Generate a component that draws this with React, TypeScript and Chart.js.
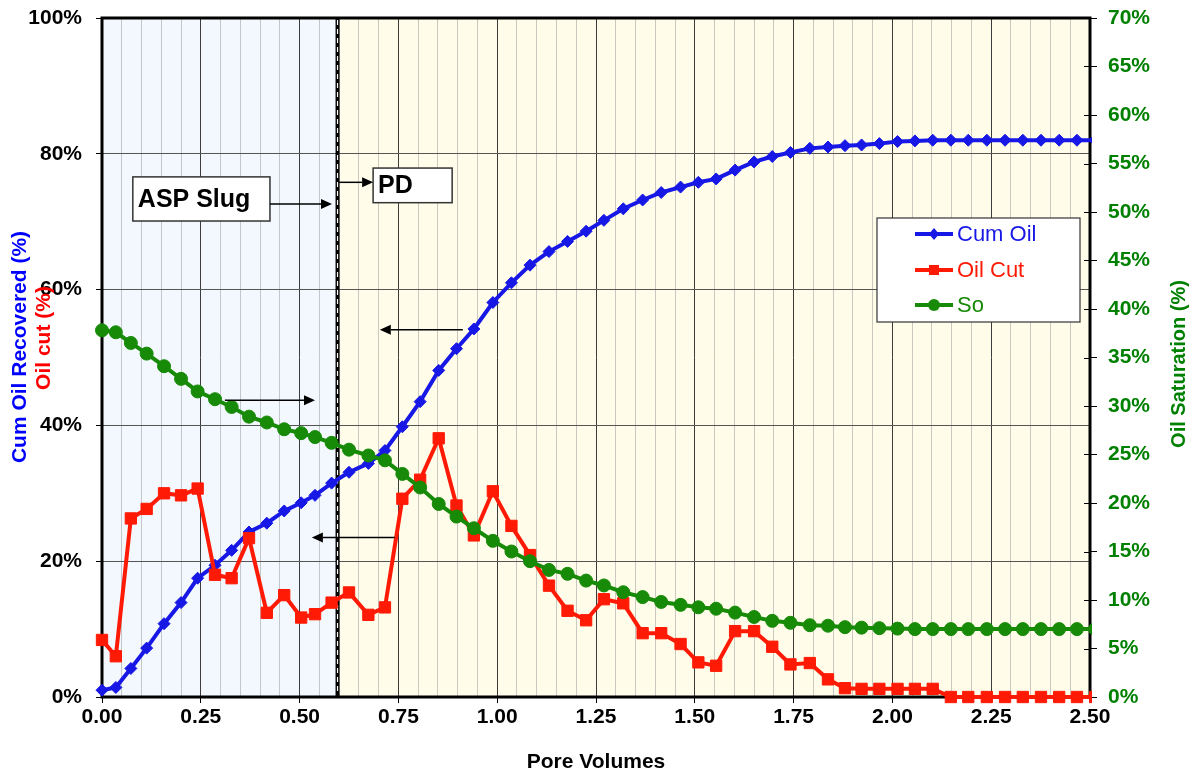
import React, { useEffect, useRef } from 'react';
import { Chart, registerables } from 'chart.js';

Chart.register(...registerables);

// Injected pore volumes at each sample point
const poreVolumes = [
  0.000, 0.035, 0.073, 0.113, 0.157, 0.200, 0.242, 0.286, 0.328, 0.372,
  0.417, 0.461, 0.504, 0.539, 0.581, 0.625, 0.674, 0.716, 0.760, 0.805,
  0.852, 0.897, 0.941, 0.989, 1.036, 1.083, 1.131, 1.178, 1.225, 1.270,
  1.319, 1.368, 1.415, 1.464, 1.509, 1.554, 1.602, 1.650, 1.696, 1.742,
  1.791, 1.837, 1.880, 1.922, 1.967, 2.013, 2.057, 2.102, 2.148, 2.192,
  2.239, 2.285, 2.330, 2.376, 2.422, 2.467, 2.513,
];

// Cumulative oil recovered, % OOIP (left axis)
const cumOil = [
  1.0, 1.4, 4.2, 7.2, 10.8, 13.9, 17.5, 19.4, 21.6, 24.3,
  25.6, 27.4, 28.6, 29.7, 31.5, 33.1, 34.4, 36.3, 39.8, 43.5,
  48.1, 51.3, 54.2, 58.1, 61.0, 63.6, 65.6, 67.1, 68.6, 70.2,
  71.9, 73.2, 74.3, 75.1, 75.8, 76.3, 77.6, 78.8, 79.6, 80.2,
  80.8, 81.0, 81.2, 81.3, 81.5, 81.8, 81.9, 82.0, 82.0, 82.0,
  82.0, 82.0, 82.0, 82.0, 82.0, 82.0, 82.0,
];

// Oil cut of the effluent, % (left axis)
const oilCut = [
  8.4, 6.0, 26.3, 27.7, 30.0, 29.7, 30.7, 18.0, 17.5, 23.4,
  12.4, 15.0, 11.7, 12.2, 13.9, 15.4, 12.1, 13.2, 29.2, 32.0,
  38.1, 28.2, 23.8, 30.3, 25.2, 20.9, 16.4, 12.7, 11.3, 14.4,
  13.8, 9.4, 9.4, 7.8, 5.1, 4.6, 9.7, 9.7, 7.4, 4.8,
  5.0, 2.6, 1.3, 1.2, 1.2, 1.2, 1.2, 1.2, 0, 0,
  0, 0, 0, 0, 0, 0, 0,
];

// Remaining oil saturation, % (right axis)
const oilSaturation = [
  37.8, 37.6, 36.5, 35.4, 34.1, 32.8, 31.5, 30.7, 29.9, 28.9,
  28.3, 27.6, 27.2, 26.8, 26.2, 25.5, 24.9, 24.4, 23.0, 21.6,
  19.9, 18.6, 17.4, 16.1, 15.0, 14.0, 13.1, 12.7, 12.0, 11.5,
  10.8, 10.3, 9.8, 9.5, 9.25, 9.1, 8.7, 8.25, 7.85, 7.65,
  7.4, 7.35, 7.2, 7.15, 7.1, 7.05, 7.0, 7.0, 7.0, 7.0,
  7.0, 7.0, 7.0, 7.0, 7.0, 7.0, 7.0,
];

// Pore volume at which the ASP slug ends and polymer drive starts
const slugEnd = 0.596;

// Call-out boxes and arrows, in axis units (x: PV, y: left-axis %)
const textBoxes = [
  { text: 'ASP Slug', x0: 0.078, x1: 0.425, yTop: 76.6, yBottom: 70.1 },
  { text: 'PD', x0: 0.686, x1: 0.886, yTop: 77.9, yBottom: 72.8 },
];
const arrows = [
  { from: [0.425, 72.6], to: [0.582, 72.6] },
  { from: [0.600, 75.8], to: [0.686, 75.8] },
  { from: [0.311, 43.7], to: [0.539, 43.7] },
  { from: [0.741, 23.5], to: [0.531, 23.5] },
  { from: [0.913, 54.1], to: [0.703, 54.1] },
];

const FONT = '"Liberation Sans", Arial, Helvetica, sans-serif';
const BLUE = '#1717e6';
const RED = '#ff1a05';
const GREEN = '#178a08';

const isMajor = (v: number) => Math.abs(v / 0.25 - Math.round(v / 0.25)) < 1e-6;

function drawArrow(ctx: CanvasRenderingContext2D, x1: number, y1: number, x2: number, y2: number) {
  const ang = Math.atan2(y2 - y1, x2 - x1);
  const len = 11;
  const hw = 5;
  const bx = x2 - Math.cos(ang) * len;
  const by = y2 - Math.sin(ang) * len;
  ctx.beginPath();
  ctx.moveTo(x1, y1);
  ctx.lineTo(bx, by);
  ctx.stroke();
  ctx.beginPath();
  ctx.moveTo(x2, y2);
  ctx.lineTo(bx + Math.sin(ang) * hw, by - Math.cos(ang) * hw);
  ctx.lineTo(bx - Math.sin(ang) * hw, by + Math.cos(ang) * hw);
  ctx.closePath();
  ctx.fill();
}

function verticalText(ctx: CanvasRenderingContext2D, text: string, cx: number, cy: number, color: string, font: string) {
  ctx.save();
  ctx.translate(cx, cy);
  ctx.rotate(-Math.PI / 2);
  ctx.fillStyle = color;
  ctx.font = font;
  ctx.textAlign = 'center';
  ctx.textBaseline = 'middle';
  ctx.fillText(text, 0, 0);
  ctx.restore();
}

function legendMarker(ctx: CanvasRenderingContext2D, style: string, x: number, y: number, color: string) {
  ctx.fillStyle = color;
  ctx.beginPath();
  if (style === 'rectRot') {
    ctx.moveTo(x - 5, y);
    ctx.lineTo(x, y - 6);
    ctx.lineTo(x + 5, y);
    ctx.lineTo(x, y + 6);
    ctx.closePath();
  } else if (style === 'rect') {
    ctx.rect(x - 5, y - 5, 10, 10);
  } else {
    ctx.arc(x, y, 6, 0, Math.PI * 2);
  }
  ctx.fill();
}

const decorations = {
  id: 'decorations',
  beforeDraw(chart: any) {
    const { ctx, chartArea: a, scales } = chart;
    const xs = scales.x.getPixelForValue(slugEnd);
    ctx.save();
    ctx.fillStyle = '#f2f8fe';
    ctx.fillRect(a.left, a.top, xs - a.left, a.bottom - a.top);
    ctx.fillStyle = '#fffde9';
    ctx.fillRect(xs, a.top, a.right - xs, a.bottom - a.top);
    ctx.restore();
  },
  beforeDatasetsDraw(chart: any) {
    const { ctx, chartArea: a, scales } = chart;
    ctx.save();
    // inner tick marks of the saturation axis
    ctx.strokeStyle = '#000';
    ctx.lineWidth = 1;
    for (const t of scales.y1.ticks) {
      const py = Math.round(scales.y1.getPixelForValue(t.value)) + 0.5;
      ctx.beginPath();
      ctx.moveTo(a.right - 6, py);
      ctx.lineTo(a.right, py);
      ctx.stroke();
    }
    // plot frame
    ctx.lineWidth = 3;
    ctx.strokeRect(a.left, a.top, a.right - a.left, a.bottom - a.top);
    // slug / polymer-drive boundary
    const xs = scales.x.getPixelForValue(slugEnd);
    ctx.lineWidth = 4;
    ctx.beginPath();
    ctx.moveTo(xs, a.top);
    ctx.lineTo(xs, a.bottom);
    ctx.stroke();
    ctx.strokeStyle = '#fff';
    ctx.lineWidth = 1.2;
    ctx.setLineDash([5, 4]);
    ctx.beginPath();
    ctx.moveTo(xs, a.top + 2);
    ctx.lineTo(xs, a.bottom - 2);
    ctx.stroke();
    ctx.restore();
  },
  afterDatasetsDraw(chart: any) {
    const { ctx, chartArea: a, scales } = chart;
    const x = scales.x;
    const y = scales.y;
    ctx.save();

    // call-out boxes
    for (const b of textBoxes) {
      const l = x.getPixelForValue(b.x0);
      const r = x.getPixelForValue(b.x1);
      const t = y.getPixelForValue(b.yTop);
      const btm = y.getPixelForValue(b.yBottom);
      ctx.fillStyle = '#fff';
      ctx.fillRect(l, t, r - l, btm - t);
      ctx.strokeStyle = '#333';
      ctx.lineWidth = 1.5;
      ctx.strokeRect(l, t, r - l, btm - t);
      ctx.fillStyle = '#000';
      ctx.font = `bold 25px ${FONT}`;
      ctx.textAlign = 'left';
      ctx.textBaseline = 'middle';
      ctx.fillText(b.text, l + 5, (t + btm) / 2 + 1);
    }

    // arrows
    ctx.strokeStyle = '#000';
    ctx.fillStyle = '#000';
    ctx.lineWidth = 1.5;
    for (const ar of arrows) {
      drawArrow(
        ctx,
        x.getPixelForValue(ar.from[0]), y.getPixelForValue(ar.from[1]),
        x.getPixelForValue(ar.to[0]), y.getPixelForValue(ar.to[1]),
      );
    }

    // legend
    const lx = a.right - 213;
    const ly = a.top + 200;
    ctx.fillStyle = '#fff';
    ctx.fillRect(lx, ly, 203, 104);
    ctx.strokeStyle = '#333';
    ctx.lineWidth = 1.2;
    ctx.strokeRect(lx, ly, 203, 104);
    const rows = [16, 52, 87];
    chart.data.datasets.forEach((ds: any, i: number) => {
      const ry = ly + rows[i];
      ctx.strokeStyle = ds.borderColor;
      ctx.lineWidth = 4;
      ctx.beginPath();
      ctx.moveTo(lx + 38, ry);
      ctx.lineTo(lx + 76, ry);
      ctx.stroke();
      legendMarker(ctx, ds.pointStyle, lx + 57, ry, ds.borderColor);
      ctx.fillStyle = ds.borderColor;
      ctx.font = `22px ${FONT}`;
      ctx.textAlign = 'left';
      ctx.textBaseline = 'middle';
      ctx.fillText(ds.label, lx + 80, ry + 1);
    });

    // axis titles
    const tf = `bold 21px ${FONT}`;
    verticalText(ctx, 'Cum Oil Recovered (%)', a.left - 82, a.top + 329, '#0000ff', tf);
    verticalText(ctx, 'Oil cut (%)', a.left - 58, a.top + 320, '#ff0000', tf);
    verticalText(ctx, 'Oil Saturation (%)', a.right + 89, a.top + 346, '#008000', `bold 20px ${FONT}`);
    ctx.fillStyle = '#000';
    ctx.font = tf;
    ctx.textAlign = 'center';
    ctx.textBaseline = 'middle';
    ctx.fillText('Pore Volumes', (a.left + a.right) / 2, a.bottom + 65);
    ctx.restore();
  },
};

const points = (ys: number[]) => poreVolumes.map((x, i) => ({ x, y: ys[i] }));
const clipArea = { left: 10, top: 10, right: 2, bottom: 10 };

export default function App() {
  const ref = useRef<HTMLCanvasElement>(null);

  useEffect(() => {
    const tickFont = { family: FONT, size: 21, weight: 'bold' as const };
    const chart = new Chart(ref.current as HTMLCanvasElement, {
      type: 'line',
      data: {
        datasets: [
          {
            label: 'Cum Oil',
            data: points(cumOil),
            borderColor: BLUE,
            backgroundColor: BLUE,
            borderWidth: 4,
            pointStyle: 'rectRot',
            pointRadius: 6,
            pointBorderWidth: 1,
            yAxisID: 'y',
            order: 3,
            clip: clipArea,
          },
          {
            label: 'Oil Cut',
            data: points(oilCut),
            borderColor: RED,
            backgroundColor: RED,
            borderWidth: 4,
            pointStyle: 'rect',
            pointRadius: 8,
            pointBorderWidth: 1,
            yAxisID: 'y',
            order: 2,
            clip: clipArea,
          },
          {
            label: 'So',
            data: points(oilSaturation),
            borderColor: GREEN,
            backgroundColor: GREEN,
            borderWidth: 4,
            pointStyle: 'circle',
            pointRadius: 6.5,
            pointBorderWidth: 1,
            yAxisID: 'y1',
            order: 1,
            clip: clipArea,
          },
        ],
      },
      options: {
        responsive: false,
        animation: false,
        devicePixelRatio: 1,
        layout: { padding: { top: 10, left: 0, right: 0, bottom: 0 } },
        elements: { line: { tension: 0 } },
        plugins: { legend: { display: false }, tooltip: { enabled: false } },
        scales: {
          x: {
            type: 'linear',
            min: 0,
            max: 2.5,
            border: { display: false },
            ticks: {
              stepSize: 0.05,
              autoSkip: false,
              maxRotation: 0,
              padding: 2,
              color: '#000',
              font: tickFont,
              callback: (v: any) => (isMajor(Number(v)) ? Number(v).toFixed(2) : ''),
            },
            grid: {
              lineWidth: 1,
              tickLength: 6,
              color: (c: any) => (isMajor(c.tick.value) ? '#3c3c3c' : 'rgba(150,150,150,0.5)'),
              tickColor: (c: any) => (isMajor(c.tick.value) ? '#000' : 'rgba(0,0,0,0)'),
            },
            afterFit: (s: any) => {
              s.height = 74;
              s.paddingLeft = 0;
              s.paddingRight = 0;
            },
          },
          y: {
            type: 'linear',
            position: 'left',
            min: 0,
            max: 100,
            border: { display: false },
            ticks: {
              stepSize: 20,
              padding: 14,
              color: '#000',
              font: tickFont,
              callback: (v: any) => `${v}%`,
            },
            grid: { color: '#555', lineWidth: 1, tickLength: 6, tickColor: '#000' },
            afterFit: (s: any) => {
              s.width = 94;
              s.paddingTop = 0;
              s.paddingBottom = 0;
            },
          },
          y1: {
            type: 'linear',
            position: 'right',
            min: 0,
            max: 70,
            border: { display: false },
            ticks: {
              stepSize: 5,
              padding: 11,
              color: '#008000',
              font: tickFont,
              callback: (v: any) => `${v}%`,
            },
            grid: { drawOnChartArea: false, tickLength: 7, tickColor: '#000', lineWidth: 1 },
            afterFit: (s: any) => {
              s.width = 104;
              s.paddingTop = 0;
              s.paddingBottom = 0;
            },
          },
        },
      },
      plugins: [decorations],
    });
    return () => chart.destroy();
  }, []);

  return (
    <div style={{ width: 1186, height: 763 }}>
      <canvas ref={ref} width={1186} height={763} style={{ display: 'block' }} />
    </div>
  );
}
